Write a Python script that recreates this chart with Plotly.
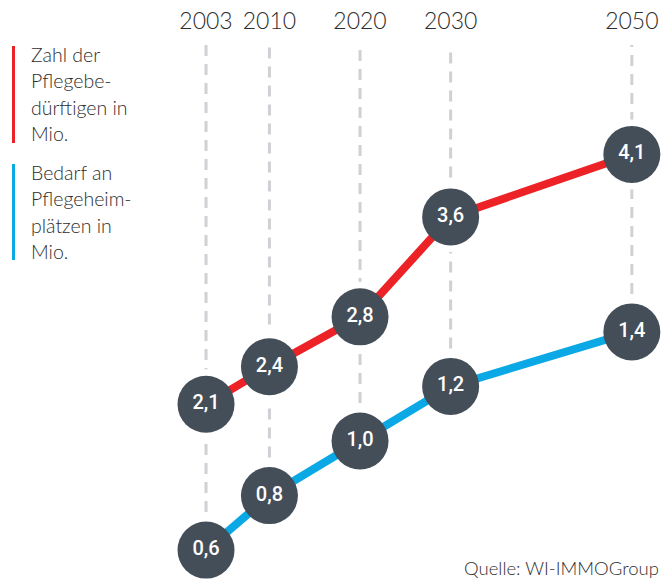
import plotly.graph_objects as go

# ---- data ----
years = [2003, 2010, 2020, 2030, 2050]
year_labels = ["2003", "2010", "2020", "2030", "2050"]
pflegebeduerftige = [2.1, 2.4, 2.8, 3.6, 4.1]   # Mio.
pflegeheimplaetze = [0.6, 0.8, 1.0, 1.2, 1.4]   # Mio.
legend_red = ["Zahl der", "Pflegebe-", "dürftigen in", "Mio."]
legend_blue = ["Bedarf an", "Pflegeheim-", "plätzen in", "Mio."]
source_text = "Quelle: WI-IMMOGroup"

# ---- style ----
W, H = 665, 582
MT = 45
RED = "#ec2227"
BLUE = "#0aa9e6"
DOT = "#444e59"
DASH = "#d0d0d5"
TXT = "#2e2e2e"
FONT = "Lato"

x_range = [1980.26, 2053.66]
blue_range = [0.483, 2.452]
red_range = [0.677, 4.976]


def fmt(v):
    return f"{v:.1f}".replace(".", ",")


fig = go.Figure()

# dashed verticals from blue points to top of plot
dx, dy = [], []
for yr, b in zip(years, pflegeheimplaetze):
    dx += [yr, yr, None]
    dy += [b, blue_range[1], None]
fig.add_trace(go.Scatter(x=dx, y=dy, mode="lines", yaxis="y",
                         line=dict(color=DASH, width=3, dash="11px,8px"),
                         hoverinfo="skip"))


def add_series(vals, color, axis):
    fig.add_trace(go.Scatter(x=years, y=vals, mode="markers", yaxis=axis,
                             marker=dict(size=70, color="white", line=dict(width=0)),
                             hoverinfo="skip"))
    fig.add_trace(go.Scatter(x=years, y=vals, mode="lines", yaxis=axis,
                             line=dict(color=color, width=8), hoverinfo="skip"))
    fig.add_trace(go.Scatter(x=years, y=vals, mode="markers+text", yaxis=axis,
                             marker=dict(size=57, color=DOT, line=dict(width=0)),
                             text=[fmt(v) for v in vals], textposition="middle center",
                             textfont=dict(family="Roboto", size=20, color="white", weight=500),
                             hoverinfo="skip"))


add_series(pflegeheimplaetze, BLUE, "y")
add_series(pflegebeduerftige, RED, "y2")


def py(p):
    return 1 - (p - MT) / (H - MT)


def px(p):
    return p / W


annotations = []
for i, line in enumerate(legend_red):
    annotations.append(dict(x=px(29), y=py(54 + i * 26.5), xref="paper", yref="paper",
                            text=line, showarrow=False, xanchor="left", yanchor="middle",
                            font=dict(family=FONT, size=19.5, color=TXT, weight=300)))
for i, line in enumerate(legend_blue):
    annotations.append(dict(x=px(29), y=py(172 + i * 26.5), xref="paper", yref="paper",
                            text=line, showarrow=False, xanchor="left", yanchor="middle",
                            font=dict(family=FONT, size=19.5, color=TXT, weight=300)))
annotations.append(dict(x=px(661), y=py(568), xref="paper", yref="paper",
                        text=source_text, showarrow=False, xanchor="right", yanchor="middle",
                        font=dict(family=FONT, size=18.5, color=TXT, weight=300)))

shapes = [
    dict(type="rect", xref="paper", yref="paper", x0=px(12), x1=px(15), y0=py(143), y1=py(46),
         fillcolor=RED, line=dict(width=0), layer="above"),
    dict(type="rect", xref="paper", yref="paper", x0=px(12), x1=px(15), y0=py(260), y1=py(164),
         fillcolor=BLUE, line=dict(width=0), layer="above"),
]

fig.update_layout(
    width=W, height=H,
    margin=dict(l=0, r=0, t=MT, b=0),
    paper_bgcolor="white", plot_bgcolor="white",
    showlegend=False, hovermode=False,
    xaxis=dict(range=x_range, side="top", tickvals=years, ticktext=year_labels,
               showgrid=False, zeroline=False, showline=False, ticks="",
               ticklabelstandoff=10, fixedrange=True,
               tickfont=dict(family=FONT, size=23, color=TXT, weight=300)),
    yaxis=dict(range=blue_range, visible=False, fixedrange=True),
    yaxis2=dict(range=red_range, visible=False, overlaying="y", fixedrange=True),
    annotations=annotations,
    shapes=shapes,
)

fig.write_html("out.html", config={"displayModeBar": False, "staticPlot": True},
               post_script="document.body.style.margin='0';document.body.style.overflow='hidden';")
